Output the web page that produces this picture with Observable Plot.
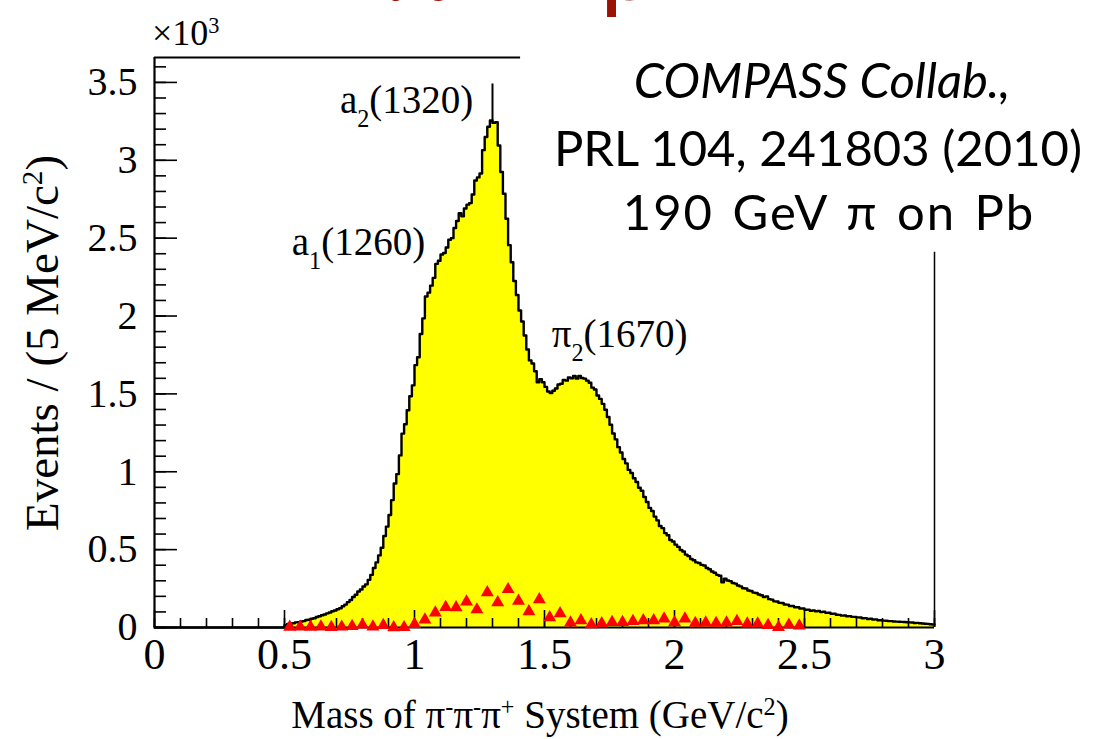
<!DOCTYPE html>
<html><head><meta charset="utf-8">
<script src="https://cdn.jsdelivr.net/npm/d3@7"></script>
<script src="https://cdn.jsdelivr.net/npm/@observablehq/plot@0.6"></script>
<style>
  html,body{margin:0;padding:0;background:#fff;}
  #chart{position:relative;width:1096px;height:739px;overflow:hidden;}
  svg{display:block}
</style>
</head><body><div id="chart"></div>
<script>
// ---------- data ----------
const binStart = 0.50;   // GeV/c^2, lower edge of first bin
const binWidth = 0.01;   // GeV/c^2
// events per bin, bins 0.50 .. 2.99
const counts = [
  15,22,25,27,33,34,39,41,48,50,
  56,59,67,72,79,83,91,96,104,109,
  117,124,136,147,163,177,196,210,231,244,
  263,277,306,338,382,418,463,512,588,648,
  722,818,925,985,1105,1245,1305,1395,1485,1555,
  1685,1735,1885,1985,2125,2150,2195,2245,2335,2355,
  2395,2405,2440,2490,2500,2565,2610,2660,2640,2690,
  2715,2725,2780,2870,2890,2915,3065,3150,3215,3255,
  3240,3245,3095,2925,2785,2625,2455,2345,2225,2135,
  2035,1965,1875,1785,1715,1695,1645,1575,1595,1575,
  1545,1515,1505,1520,1535,1560,1565,1590,1585,1605,
  1600,1615,1598,1615,1602,1598,1585,1572,1540,1528,
  1490,1468,1436,1398,1352,1302,1246,1208,1158,1124,
  1082,1054,1012,992,958,934,897,878,838,806,
  768,748,712,688,652,638,606,592,562,552,
  532,518,498,488,468,458,440,432,418,414,
  402,398,382,374,360,352,338,332,290,314,
  302,298,286,282,270,264,252,250,238,234,
  224,222,212,207,196,200,182,179,168,167,
  158,157,148,147,138,138,130,130,122,122,
  114,115,108,110,104,106,99,101,94,95,
  88,89,82,81,76,77,72,73,68,68,
  65,64,59,60,55,56,51,52,47,47,
  44,43,41,41,39,38,37,36,35,34,
  33,32,29,30,27,26,24,23,21,19
];
// single narrow spike at the a2 peak
const spikeMass = [1.300];
const spikeBase = [3240];
const spikeTop  = [3490];
// red triangles (second distribution)
const triMass = [0.52,0.56,0.60,0.64,0.68,0.72,0.76,0.80,0.84,0.88,
                 0.92,0.96,1.00,1.04,1.08,1.12,1.16,1.20,1.24,1.28,
                 1.32,1.36,1.40,1.44,1.48,1.52,1.56,1.60,1.64,1.68,
                 1.72,1.76,1.80,1.84,1.88,1.92,1.96,2.00,2.04,2.08,
                 2.12,2.16,2.20,2.24,2.28,2.32,2.36,2.40,2.44,2.48];
const triCount = [3,4,3,5,2,4,8,17,5,15,
                  0,1,21,50,95,130,128,165,115,225,
                  160,245,170,103,180,64,90,30,45,19,
                  26,34,34,40,45,45,56,32,56,28,
                  30,28,30,40,24,24,15,2,17,11];
// axes
const xMajor = [0,0.5,1,1.5,2,2.5,3];
const xTickLabels = ["0","0.5","1","1.5","2","2.5","3"];
const yMajor = [0,500,1000,1500,2000,2500,3000,3500];
const yTickLabels = ["0","0.5","1","1.5","2","2.5","3","3.5"];
const xMinor = d3.range(0, 3.0001, 0.1).map(v => +v.toFixed(2));
const yMinor = d3.range(0, 3601, 100);
// annotations: label parts, anchor (mass, events)
const peakLabels = [
  {name:"a", sub:"2", rest:"(1320)", mass:0.715, count:3300},
  {name:"a", sub:"1", rest:"(1260)", mass:0.530, count:2390},
  {name:"π", sub:"2", rest:"(1670)", mass:1.530, count:1800}
];

// ---------- build tables ----------
const hist = [{m:0, n:0}];
counts.forEach((n,i) => hist.push({m:+(binStart + i*binWidth).toFixed(3), n}));
hist.push({m:3.0, n:counts[counts.length-1]});
const spike = spikeMass.map((m,i) => ({m, base:spikeBase[i], top:spikeTop[i]}));
const tri = triMass.map((m,i) => ({m, n:triCount[i]}));

const serif = "'Liberation Serif', 'DejaVu Serif', serif";

const plot = Plot.plot({
  width:1096, height:739,
  marginLeft:154, marginRight:162, marginTop:57, marginBottom:112,
  x:{domain:[0,3]}, y:{domain:[0,3660]},
  style:{background:"transparent", fontFamily:serif, overflow:"visible"},
  marks:[
    Plot.areaY(hist, {x:"m", y:"n", curve:"step-after", fill:"#ffff00"}),
    Plot.lineY(hist, {x:"m", y:"n", curve:"step-after", stroke:"black", strokeWidth:2.4}),
    Plot.ruleX(spike, {x:"m", y1:"base", y2:"top", stroke:"black", strokeWidth:2}),
    // frame
    Plot.ruleY([0], {stroke:"black", strokeWidth:2.2}),
    Plot.ruleX([0], {stroke:"black", strokeWidth:2.2}),
    Plot.ruleY([3660], {x1:0, x2:1.408, stroke:"black", strokeWidth:2}),
    Plot.ruleX([3], {y1:0, y2:2410, stroke:"black", strokeWidth:1.5}),
    // inward ticks
    Plot.axisX({anchor:"bottom", ticks:xMinor, tickSize:-9, tickFormat:() => "", label:null, strokeWidth:1.6}),
    Plot.axisX({anchor:"bottom", ticks:xMajor, tickSize:-17, tickFormat:() => "", label:null, strokeWidth:1.6}),
    Plot.axisY({anchor:"left", ticks:yMinor, tickSize:-12, tickFormat:() => "", label:null, strokeWidth:1.6}),
    Plot.axisY({anchor:"left", ticks:yMajor, tickSize:-23, tickFormat:() => "", label:null, strokeWidth:1.6}),
    // tick labels
    Plot.axisX({anchor:"bottom", ticks:xMajor, tickSize:0, tickPadding:10, tickFormat:(d,i) => xTickLabels[i],
                label:null, fontSize:44, fill:"black"}),
    Plot.axisY({anchor:"left", ticks:yMajor, tickSize:0, tickPadding:17, tickFormat:(d,i) => yTickLabels[i],
                label:null, fontSize:40, fill:"black"}),
    Plot.dot(tri, {x:"m", y:"n", symbol:"triangle", fill:"#ff0000", r:4.8})
  ]
});

document.getElementById("chart").appendChild(plot);
const svg = d3.select(plot);
const xs = plot.scale("x"), ys = plot.scale("y");

function addText(g, x, y, parts, opts) {
  const t = g.append("text").attr("x", x).attr("y", y)
    .attr("font-family", opts.family || serif)
    .attr("font-size", opts.size)
    .attr("fill", opts.fill || "black")
    .attr("text-anchor", opts.anchor || "start");
  if (opts.italic) t.attr("font-style", "italic");
  if (opts.transform) t.attr("transform", opts.transform);
  if (opts.wordSpacing) t.attr("word-spacing", opts.wordSpacing);
  if (opts.letterSpacing) t.attr("letter-spacing", opts.letterSpacing);
  parts.forEach(p => {
    const s = t.append("tspan").text(p.t);
    if (p.sup) s.attr("baseline-shift", "super").attr("font-size", opts.size * 0.62);
    if (p.sub) s.attr("baseline-shift", "sub").attr("font-size", opts.size * 0.62);
  });
  return t;
}

const g = svg.append("g");
// peak annotations
peakLabels.forEach(d => {
  addText(g, xs.apply(d.mass), ys.apply(d.count),
    [{t:d.name},{t:d.sub, sub:true},{t:d.rest}], {size:39});
});
// multiplier
addText(g, 152, 45, [{t:"×10"},{t:"3", sup:true}], {size:36});
// axis titles
addText(g, 540, 728, [{t:"Mass of π"},{t:"-", sup:true},{t:"π"},{t:"-", sup:true},{t:"π"},{t:"+", sup:true},
  {t:" System (GeV/c"},{t:"2", sup:true},{t:")"}], {size:39, anchor:"middle"});
addText(g, 0, 0, [{t:"Events / (5 MeV/c"},{t:"2", sup:true},{t:")"}],
  {size:47, anchor:"middle", transform:"translate(58,343) rotate(-90)"});
// reference text block
const sans = "'Lato', 'Open Sans', sans-serif";
addText(g, 822, 98, [{t:"COMPASS Collab.,"}], {size:49, anchor:"middle", family:sans, italic:true});
addText(g, 818, 166, [{t:"PRL 104, 241803 (2010)"}], {size:49, anchor:"middle", family:sans});
addText(g, 829, 230, [{t:"190 GeV π on Pb"}], {size:49, anchor:"middle", family:sans, wordSpacing:4, letterSpacing:2});
// cropped slide title
addText(g, 521, 0, [{t:"Kπ → pK"}], {size:100, anchor:"middle", family:sans, fill:"#9c1006"});
</script>
</body></html>
